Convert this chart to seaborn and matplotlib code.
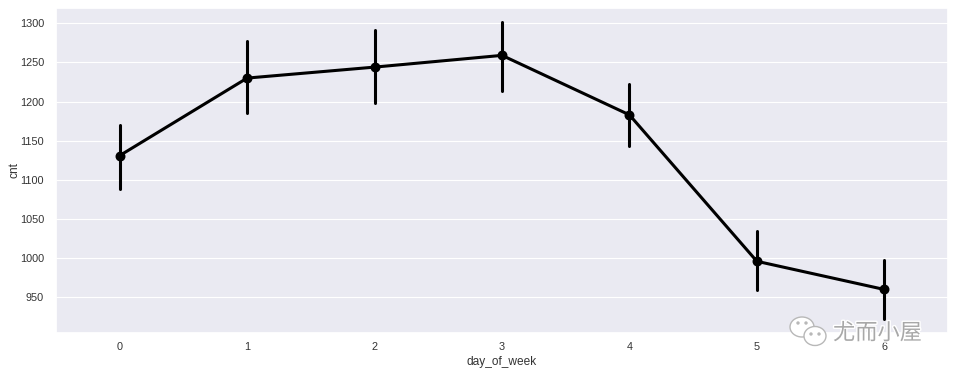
import numpy as np
import pandas as pd
import matplotlib
matplotlib.use("Agg")
import matplotlib.pyplot as plt
import matplotlib.patheffects as pe
from matplotlib.patches import Ellipse
import seaborn as sns

days = [0, 1, 2, 3, 4, 5, 6]
cnt_mean = [1131, 1230, 1244, 1259, 1183, 996, 960]
cnt_low = [1088, 1185, 1198, 1213, 1143, 959, 922]
cnt_high = [1170, 1277, 1292, 1301, 1223, 1035, 997]
y_ticks = [950, 1000, 1050, 1100, 1150, 1200, 1250, 1300]

sns.set_theme(style="darkgrid", rc={"grid.linewidth": 0.8})
plt.rcParams['font.family'] = ['Liberation Sans', 'DejaVu Sans']

df = pd.DataFrame({
    "day_of_week": days * 3,
    "cnt": cnt_low + cnt_mean + cnt_high,
})

fig = plt.figure(figsize=(9.55, 3.74), dpi=100)
ax = fig.add_axes([56 / 955, 1 - 333 / 374, (948 - 56) / 955, (333 - 8) / 374])
sns.pointplot(data=df, x="day_of_week", y="cnt", estimator="median",
              errorbar=("pi", 100), color="black", ax=ax,
              linewidth=2.2, markersize=5.5)
ax.set_ylim(904.4, 1319.5)
ax.set_yticks(y_ticks)
ax.tick_params(axis="x", labelsize=7.8, colors="#333333", pad=0.5)
ax.tick_params(axis="y", labelsize=7.8, colors="#333333", pad=2.6)
ax.set_xlabel("day_of_week", fontsize=8.6, color="#333333", labelpad=2.5)
ax.set_ylabel("cnt", fontsize=8.6, color="#333333", labelpad=-0.6)

# watermark
wm = "#b8b8b8"
def bubble(x, y, w, h, fill="white"):
    fig.patches.append(Ellipse((x / 955, 1 - y / 374), w / 955, h / 374,
                               transform=fig.transFigure, facecolor=fill,
                               edgecolor=wm, linewidth=1.0, zorder=5))

bubble(802, 327, 24, 20)
bubble(815, 336, 22, 19)
for ex, ey in [(798, 323), (806, 323), (811, 334), (819, 334)]:
    bubble(ex, ey, 2, 2, fill=wm)
fig.text(833 / 955, 1 - 333 / 374, "尤而小屋", fontsize=16, color="#a8a8a8",
         family=["Noto Sans CJK SC", "DejaVu Sans"], va="center", ha="left",
         zorder=6, path_effects=[pe.withStroke(linewidth=2, foreground="white")])

fig.savefig("out.png", dpi=100)
